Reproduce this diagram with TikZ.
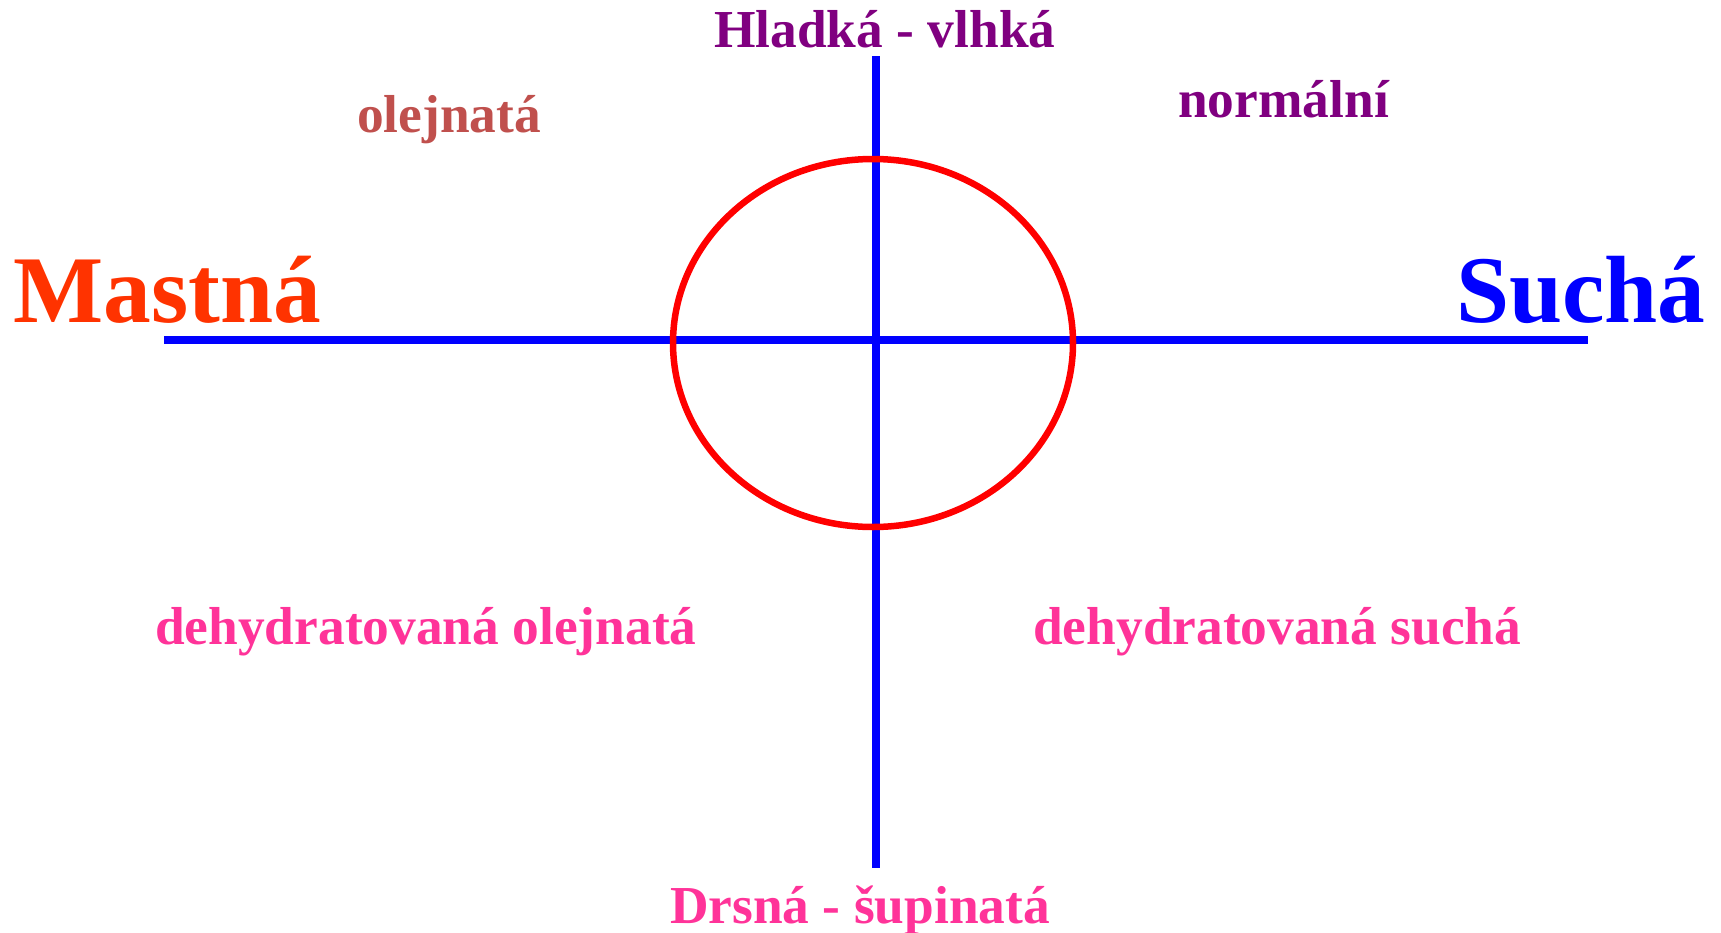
\documentclass[tikz,border=0pt]{standalone}
\usepackage{fontspec}
\setmainfont{Liberation Serif}
\usepackage{xcolor}
\usepackage{tikz}
\usetikzlibrary{positioning}
\definecolor{axisblue}{RGB}{0,0,255}
\definecolor{ringred}{RGB}{255,0,0}
\definecolor{mastred}{RGB}{255,51,0}
\definecolor{smoothpurple}{RGB}{128,0,128}
\definecolor{oilyred}{RGB}{192,80,77}
\definecolor{roughpink}{RGB}{255,51,153}
\tikzset{
  axisline/.style={
    draw=axisblue,
    line width=8.5pt
  },
  ringline/.style={
    draw=ringred,
    line width=6.5pt
  },
  biglabel/.style={
    inner sep=0pt,
    anchor=base west,
    font=\fontsize{95.5}{100}\selectfont\bfseries
  },
  typelabel/.style={
    inner sep=0pt,
    anchor=base west,
    font=\fontsize{53.4}{60}\selectfont\bfseries
  }
}

\begin{document}
\begin{tikzpicture}[x=1pt,y=-1pt]
\useasboundingbox (0,0) rectangle (1721,932);

\coordinate (west) at (164,340);
\coordinate (east) at (1588,340);
\coordinate (north) at (876,56);
\coordinate (south) at (876,868);
\coordinate (centre) at (873,343);

\draw[axisline] (west) -- (east);
\draw[axisline, line width=8pt] (north) -- (south);
\draw[ringline] (centre) ellipse [x radius=200, y radius=184];

\node[biglabel, text=mastred] (oily) at (13,322) {Mastná};
\node[biglabel, text=axisblue] (dry) at (1456,322) {Suchá};
\node[typelabel, text=smoothpurple] (smooth) at (714,47) {Hladká - vlhká};
\node[typelabel, text=roughpink] (rough) at (670,923) {Drsná - šupinatá};
\node[typelabel, text=oilyred] (oilyskin) at (357,132) {olejnatá};
\node[typelabel, text=smoothpurple] (normal) at (1178,117) {normální};
\node[typelabel, text=roughpink] (dehyoily) at (155,644) {dehydratovaná olejnatá};
\node[typelabel, text=roughpink] (dehydry) at (1033,644) {dehydratovaná suchá};
\end{tikzpicture}
\end{document}
